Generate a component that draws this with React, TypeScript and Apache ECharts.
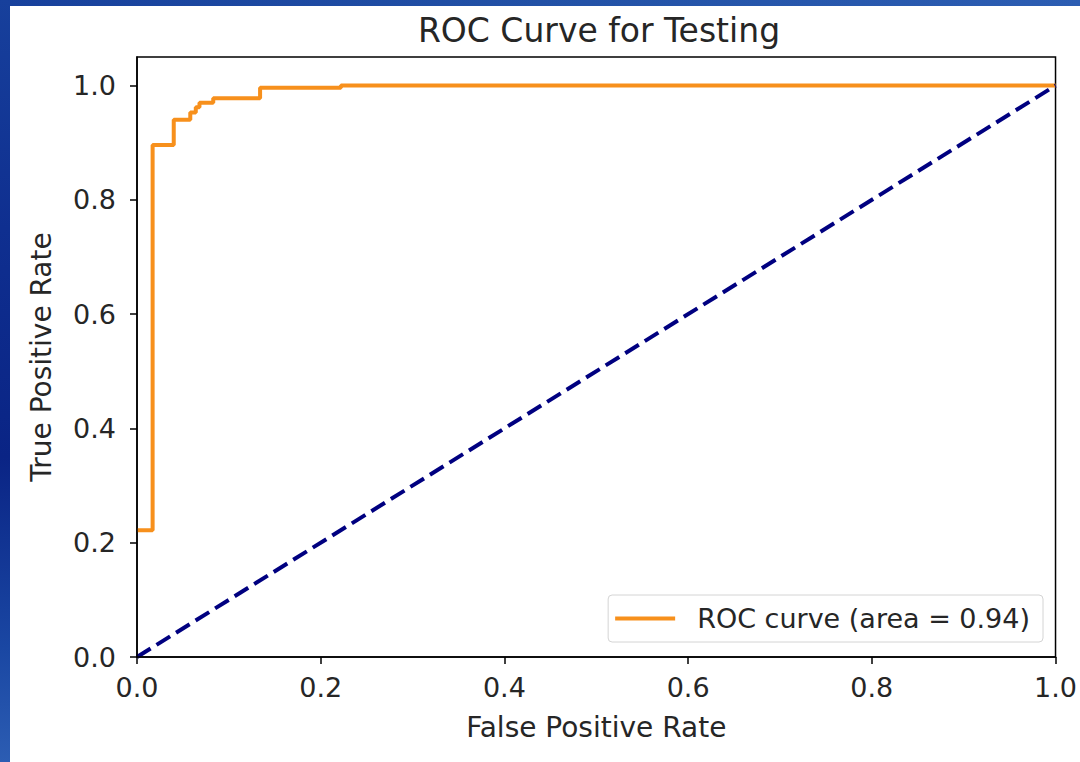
import React, { useEffect, useRef } from "react";
import * as echarts from "echarts";

// the curve's first segment (0,0)->(0,0.222) lies under the y axis spine
const fpr = [0, 0.017, 0.017, 0.040, 0.040, 0.058, 0.058, 0.064, 0.064, 0.068, 0.068, 0.083, 0.083, 0.134, 0.134, 0.222, 0.222, 1.0];
const tpr = [0.222, 0.222, 0.896, 0.896, 0.940, 0.940, 0.953, 0.953, 0.962, 0.962, 0.970, 0.970, 0.978, 0.978, 0.996, 0.996, 1.0, 1.0];
const chanceX = [0, 1];
const chanceY = [0, 1];
const xTicks = [0, 0.2, 0.4, 0.6, 0.8, 1.0];
const yTicks = [0, 0.2, 0.4, 0.6, 0.8, 1.0];
const titleText = "ROC Curve for Testing";
const xName = "False Positive Rate";
const yName = "True Positive Rate";
const rocName = "ROC curve (area = 0.94)";

const FONT = "DejaVu Sans";
const TXT = "#262626";
const ORANGE = "#f7901c";

export default function App() {
  const ref = useRef<HTMLDivElement>(null);
  useEffect(() => {
    if (!ref.current) return;
    const chart = echarts.init(ref.current, undefined, { renderer: "svg" });
    const axisCommon = {
      type: "value" as const,
      min: 0,
      interval: 0.2,
      z: 5,
      splitLine: { show: false },
      axisLine: { show: true, onZero: false, lineStyle: { color: "#000", width: 1.5 } },
      axisTick: { show: true, inside: false, length: 7, lineStyle: { color: "#000", width: 1.5 } },
      nameLocation: "middle" as const,
      nameTextStyle: { fontFamily: FONT, fontSize: 28, color: TXT },
    };
    chart.setOption({
      animation: false,
      backgroundColor: "transparent",
      textStyle: { fontFamily: FONT },
      title: {
        text: titleText,
        left: 594,
        textAlign: "center",
        top: 9,
        textStyle: { fontFamily: FONT, fontSize: 33, fontWeight: "normal", color: TXT },
      },
      grid: {
        left: 137,
        right: 21,
        top: 57,
        bottom: 105,
        show: true,
        borderColor: "#000",
        borderWidth: 1.5,
        backgroundColor: "#fff",
      },
      legend: {
        data: [{ name: rocName, icon: "rect", itemStyle: { color: ORANGE } }],
        right: 37,
        bottom: 120,
        itemWidth: 60,
        itemHeight: 4,
        padding: [10, 13, 10, 7],
        borderColor: "#d4d4d4",
        borderWidth: 1,
        borderRadius: 4,
        backgroundColor: "rgba(255,255,255,0.85)",
        textStyle: { fontFamily: FONT, fontSize: 27, color: TXT, padding: [0, 0, 0, 17] },
      },
      xAxis: {
        ...axisCommon,
        max: 1,
        name: xName,
        nameGap: 56,
        axisTick: { ...axisCommon.axisTick, customValues: xTicks },
        axisLabel: {
          customValues: xTicks,
          margin: 17,
          fontFamily: FONT,
          fontSize: 27,
          color: TXT,
          formatter: (v: number) => v.toFixed(1),
        },
      },
      yAxis: {
        ...axisCommon,
        max: 1.05,
        name: yName,
        nameGap: 82,
        axisTick: { ...axisCommon.axisTick, customValues: yTicks },
        axisLabel: {
          customValues: yTicks,
          margin: 21,
          fontFamily: FONT,
          fontSize: 27,
          color: TXT,
          formatter: (v: number) => v.toFixed(1),
        },
      },
      series: [
        {
          name: rocName,
          type: "line",
          symbol: "none",
          showSymbol: false,
          z: 2,
          data: fpr.map((x, i) => [x, tpr[i]]),
          lineStyle: { color: ORANGE, width: 4 },
          itemStyle: { color: ORANGE },
        },
        {
          name: "chance",
          type: "line",
          symbol: "none",
          showSymbol: false,
          z: 3,
          data: chanceX.map((x, i) => [x, chanceY[i]]),
          lineStyle: { color: "#000080", width: 4, type: [16, 7] },
          itemStyle: { color: "#000080" },
        },
      ],
    });
    return () => chart.dispose();
  }, []);

  return (
    <div style={{ position: "absolute", left: 0, top: 0, width: 1080, height: 762, overflow: "hidden", background: "#fff" }}>
      <div style={{ position: "absolute", left: 0, top: 0, width: 1080, height: 6, background: "linear-gradient(90deg, #17409c 0%, #2251a6 50%, #2c5db2 100%)" }} />
      <div style={{ position: "absolute", left: 0, top: 0, width: 10, height: 762, background: "linear-gradient(180deg, #17409c 0%, #0f2f90 30%, #0a2485 60%, #1a47a3 85%, #2c5db3 100%)" }} />
      <div ref={ref} style={{ position: "absolute", left: 0, top: 0, width: 1080, height: 762 }} />
    </div>
  );
}
